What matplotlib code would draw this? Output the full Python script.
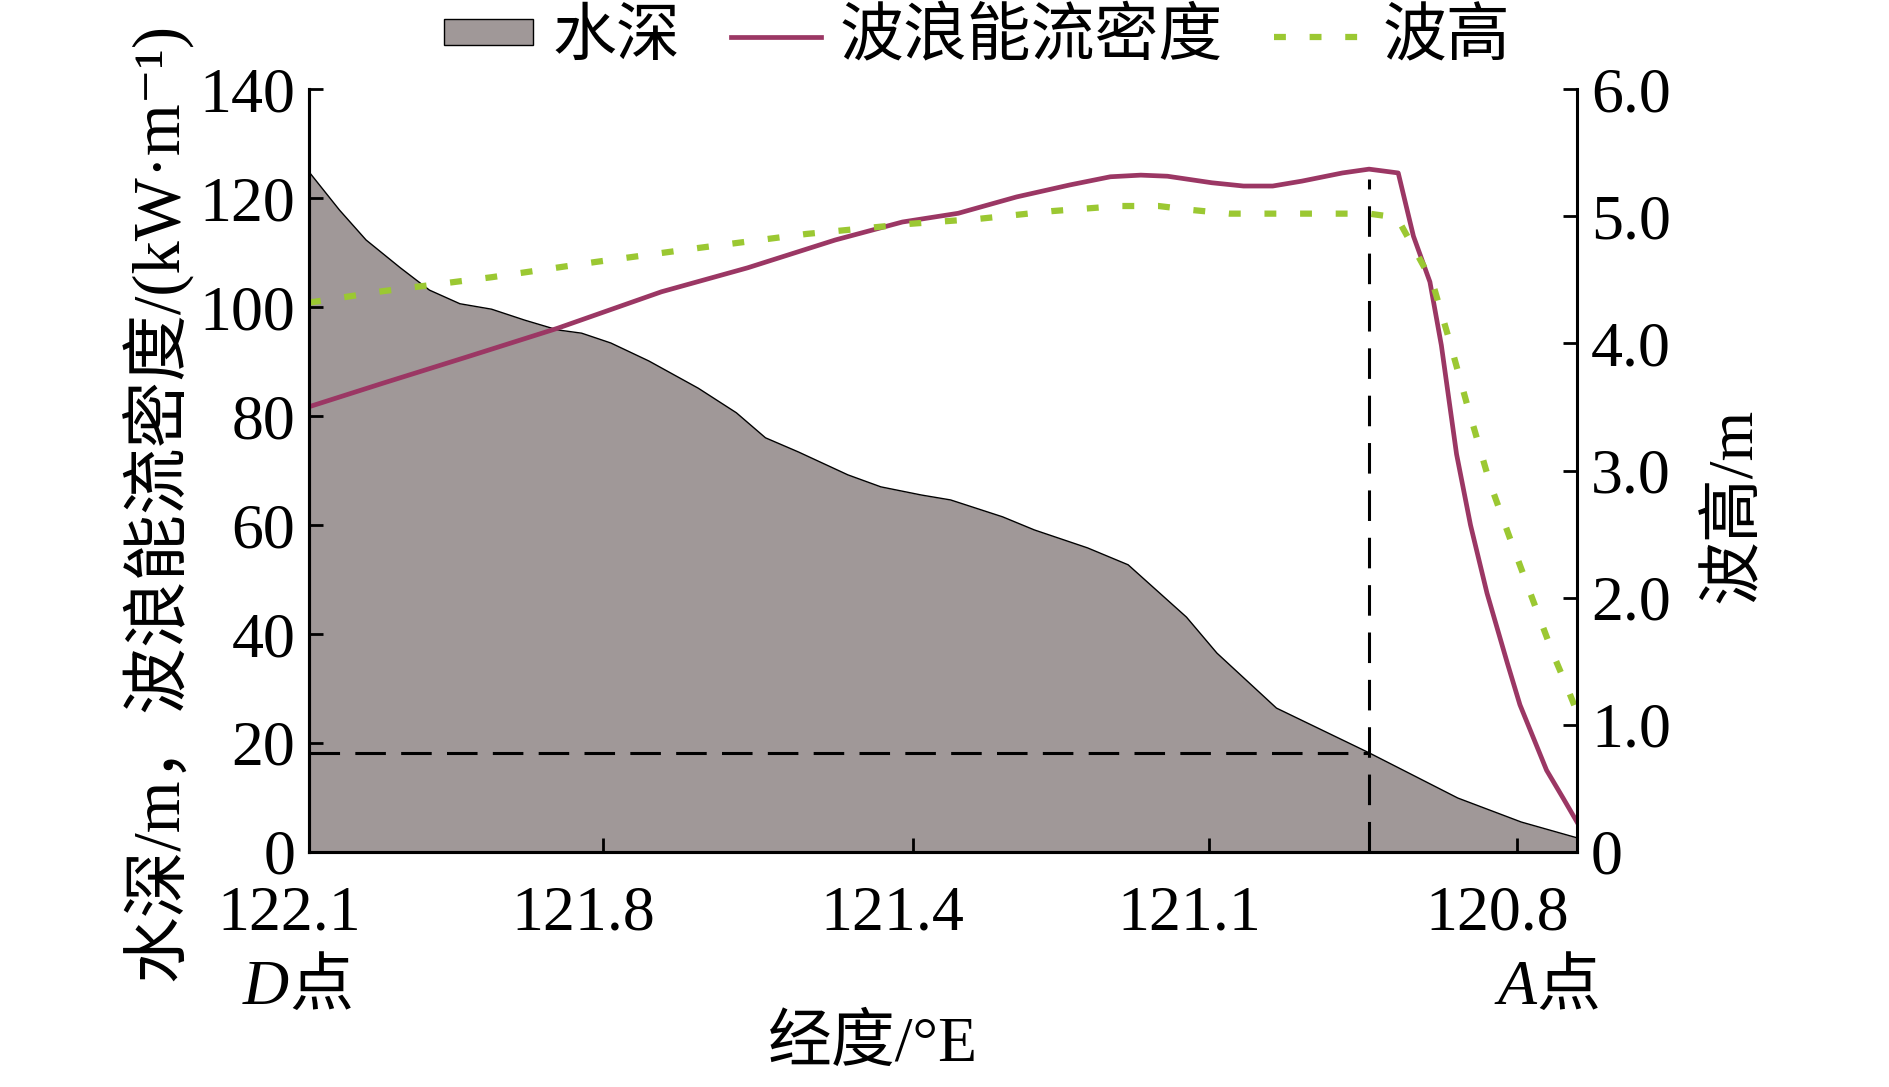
import numpy as np
import matplotlib.pyplot as plt
import matplotlib.transforms as mtransforms
from matplotlib.lines import Line2D
from matplotlib.patches import Patch

plt.rcParams['font.family'] = ['Liberation Serif', 'Noto Sans CJK SC', 'DejaVu Sans']
plt.rcParams['font.size'] = 46

# distance along the section D -> A (0..100)
dist_depth = [0, 2.4, 4.5, 7.2, 9.5, 11.9, 14.4, 17.0, 19.6, 21.5, 23.8, 26.8, 30.7,
              33.7, 36.0, 38.6, 42.5, 45.1, 48.3, 50.6, 54.7, 57.2, 61.4, 64.6, 69.2,
              71.6, 76.3, 83.6, 90.6, 95.6, 100]
depth = [124.8, 117.8, 112.3, 107.2, 103.1, 100.6, 99.6, 97.6, 95.8, 95.2, 93.4, 90.1, 85.1,
         80.6, 76.0, 73.4, 69.2, 67.0, 65.5, 64.6, 61.5, 59.1, 55.8, 52.7, 43.1,
         36.5, 26.4, 18.2, 9.9, 5.5, 2.6]

dist_flux = [0, 5.8, 12.4, 19.6, 27.8, 34.6, 41.5, 46.8, 51.2, 55.8, 60.0, 63.2, 65.6,
             67.7, 71.2, 73.7, 76.0, 78.3, 81.5, 83.6, 85.9, 87.1, 88.4, 89.3, 90.5,
             91.6, 92.9, 94.5, 95.5, 97.6, 98.9, 100]
flux = [81.7, 86.0, 90.8, 96.1, 102.8, 107.2, 112.3, 115.6, 117.2, 120.2, 122.4, 123.9, 124.2,
        124.0, 122.8, 122.2, 122.2, 123.1, 124.6, 125.3, 124.6, 113.0, 104.6, 93.0, 73.0,
        60.0, 47.5, 34.7, 27.0, 15.0, 9.9, 5.5]

dist_hs = [0, 5.8, 14.4, 22.6, 30.7, 39.2, 47.4, 52.9, 58.6, 63.9, 67.0, 69.5, 72.6,
           83.6, 85.8, 87.4, 88.6, 90.0, 91.3, 93.1, 94.7, 96.3, 98.1, 99.2, 100]
hs = [4.32, 4.41, 4.52, 4.64, 4.75, 4.86, 4.94, 4.98, 5.04, 5.08, 5.08, 5.05, 5.02,
      5.02, 4.99, 4.70, 4.48, 4.00, 3.53, 2.91, 2.47, 2.04, 1.56, 1.30, 1.10]

xtick_pos = [0, 23.2, 47.6, 71.0, 95.3]
xtick_lab = ['122.1', '121.8', '121.4', '121.1', '120.8']
mark_x = 83.6
mark_depth = 18.2
mark_top = 123.5

gray = '#A09898'
purple = '#9B3764'
green = '#9BC832'

fig = plt.figure(figsize=(18.9, 10.87), dpi=100)
ax = fig.add_axes([0.1635, 0.2162, 0.6709, 0.7019])
ax2 = ax.twinx()

ax.fill_between(dist_depth, depth, 0, color=gray, lw=0)
ax.plot(dist_depth, depth, color='k', lw=1)
ax.plot([0, mark_x], [mark_depth, mark_depth], color='k', lw=2.2, dashes=(10, 5))
ax.plot([mark_x, mark_x], [0, mark_top], color='k', lw=2.2, dashes=(10, 5.5))
ax.plot(dist_flux, flux, color=purple, lw=3.4)
ax2.plot(dist_hs, hs, color=green, lw=4.5, dashes=(1.9, 3.8))

ax.set_xlim(0, 100)
ax.set_ylim(0, 140)
ax2.set_ylim(0, 6)
ax.set_yticks(range(0, 141, 20))
ax2.set_yticks([0, 1, 2, 3, 4, 5, 6])
ax2.set_yticklabels(['0', '1.0', '2.0', '3.0', '4.0', '5.0', '6.0'])
ax.set_xticks(xtick_pos)
ax.set_xticklabels(xtick_lab)

for a in (ax, ax2):
    a.spines['top'].set_visible(False)
    for s in a.spines.values():
        s.set_linewidth(2.2)
ax.spines['right'].set_visible(False)
ax.tick_params(axis='both', direction='in', length=10, width=2)
ax.tick_params(axis='x', pad=24)
ax.tick_params(axis='y', pad=10)
ax2.tick_params(axis='y', direction='in', length=10, width=2, pad=10)

shift = mtransforms.ScaledTranslation(-0.2, 0, fig.dpi_scale_trans)
for lab in ax.get_xticklabels():
    lab.set_transform(lab.get_transform() + shift)

fig.text(0.083, 0.538, '水深/m，波浪能流密度/(kW·m⁻¹)', rotation=90, ha='center', va='center',
         fontsize=48)
fig.text(0.918, 0.535, '波高/m', rotation=90, ha='center', va='center')
fig.text(0.462, 0.038, '经度/°E', ha='center', va='center')
fig.text(0.153, 0.09, 'D', style='italic', ha='right', va='center')
fig.text(0.153, 0.09, '点', ha='left', va='center')
fig.text(0.813, 0.09, 'A', style='italic', ha='right', va='center')
fig.text(0.813, 0.09, '点', ha='left', va='center')

handles = [Patch(facecolor=gray, edgecolor='k', lw=1),
           Line2D([], [], color=purple, lw=3.4),
           Line2D([], [], color=green, lw=4.5, dashes=(1.9, 3.8))]
fig.legend(handles, ['水深', '波浪能流密度', '波高'], ncol=3, loc='upper center',
           bbox_to_anchor=(0.517, 1.015), frameon=False, handlelength=1.4,
           handleheight=0.25, handletextpad=0.3, columnspacing=0.8, borderaxespad=0)

fig.savefig('out.png', dpi=100)
